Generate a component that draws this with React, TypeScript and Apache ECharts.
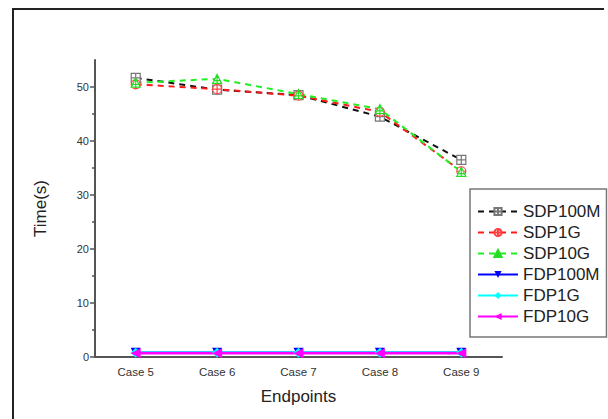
import React, { useEffect, useRef } from "react";
import * as echarts from "echarts";

const categories = ["Case 5", "Case 6", "Case 7", "Case 8", "Case 9"];
const sdp100m = [51.7, 49.5, 48.5, 44.5, 36.5];
const sdp1g = [50.5, 49.6, 48.4, 45.4, 34.4];
const sdp10g = [50.8, 51.5, 48.7, 45.9, 34.3];
const fdp100m = [0.8, 0.8, 0.8, 0.8, 0.8];
const fdp1g = [0.8, 0.8, 0.8, 0.8, 0.8];
const fdp10g = [0.7, 0.7, 0.7, 0.7, 0.7];
const yMajor = [0, 10, 20, 30, 40, 50];
const yMinor = [5, 15, 25, 35, 45];

const SQ_PLUS = "path://M0,0H10V10H0Z M5,0V10 M0,5H10";
const CI_PLUS = "path://M10,5A5,5,0,1,1,0,5A5,5,0,1,1,10,5Z M5,0V10 M0,5H10";
const TR_PLUS = "path://M5,0L10,10H0Z M5,0V10 M1,7H9";

const FONT = "Liberation Sans, Arial, sans-serif";

export default function App() {
  const ref = useRef<HTMLDivElement>(null);
  useEffect(() => {
    if (!ref.current) return;
    const chart = echarts.init(ref.current, undefined, { renderer: "svg" });
    const grid = { left: 95, right: 106, top: 60, bottom: 62 };
    const dashedSeries = (name: string, data: number[], color: string, symbol: string, markerColor: string) => ({
      name,
      type: "line",
      data,
      symbol,
      symbolSize: 9,
      xAxisIndex: 0,
      yAxisIndex: 0,
      lineStyle: { color, width: 2, type: [6, 5] },
      itemStyle: { color: "#ffffff", borderColor: markerColor, borderWidth: 1.2 },
    });
    const solidSeries = (name: string, data: number[], color: string, symbol: string, rotate: number) => ({
      name,
      type: "line",
      data,
      symbol,
      symbolSize: 10,
      symbolRotate: rotate,
      xAxisIndex: 0,
      yAxisIndex: 0,
      lineStyle: { color, width: 2.5, type: "solid" },
      itemStyle: { color },
    });
    chart.setOption({
      animation: false,
      backgroundColor: "#ffffff",
      textStyle: { fontFamily: FONT },
      grid: [grid, grid],
      xAxis: [
        {
          type: "category",
          data: categories,
          gridIndex: 0,
          boundaryGap: true,
          name: "Endpoints",
          nameLocation: "middle",
          nameGap: 31,
          nameTextStyle: { fontSize: 17, color: "#222", fontFamily: FONT },
          axisLine: { lineStyle: { color: "#555", width: 2 } },
          axisTick: { alignWithLabel: true, length: 5, lineStyle: { color: "#555", width: 1.5 } },
          axisLabel: { fontSize: 11.5, color: "#333", margin: 9, fontFamily: FONT },
          splitLine: { show: false },
        },
        {
          type: "category",
          data: categories,
          gridIndex: 1,
          boundaryGap: true,
          axisLine: { show: false },
          axisTick: { alignWithLabel: false, length: 3, lineStyle: { color: "#555", width: 1.5 } },
          axisLabel: { show: false },
          splitLine: { show: false },
        },
      ],
      yAxis: [
        {
          type: "value",
          gridIndex: 0,
          min: 0,
          max: 55,
          interval: 10,
          name: "Time(s)",
          nameLocation: "middle",
          nameGap: 46,
          nameRotate: 90,
          nameTextStyle: { fontSize: 17, color: "#222", fontFamily: FONT },
          axisLine: { show: true, lineStyle: { color: "#555", width: 2 } },
          axisTick: { show: true, length: 5, customValues: yMajor, lineStyle: { color: "#555", width: 1.5 } },
          axisLabel: { fontSize: 11, color: "#333", margin: 6, customValues: yMajor, fontFamily: FONT },
          splitLine: { show: false },
        },
        {
          type: "value",
          gridIndex: 1,
          min: 0,
          max: 55,
          axisLine: { show: false },
          axisTick: { show: true, length: 3, customValues: yMinor, lineStyle: { color: "#555", width: 1.5 } },
          axisLabel: { show: false },
          splitLine: { show: false },
        },
      ],
      legend: {
        orient: "vertical",
        left: 470,
        top: 189,
        itemWidth: 40,
        itemHeight: 9,
        itemGap: 4,
        padding: [14, 6, 12, 7],
        borderColor: "#777",
        borderWidth: 1.5,
        textStyle: { fontSize: 17, color: "#222", fontFamily: FONT },
        data: ["SDP100M", "SDP1G", "SDP10G", "FDP100M", "FDP1G", "FDP10G"],
      },
      graphic: [
        { type: "line", shape: { x1: 12, y1: 9, x2: 604, y2: 9 }, style: { stroke: "#222", lineWidth: 2 } },
        { type: "line", shape: { x1: 13, y1: 9, x2: 13, y2: 419 }, style: { stroke: "#222", lineWidth: 2 } },
      ],
      series: [
        dashedSeries("SDP100M", sdp100m, "#111111", SQ_PLUS, "#777777"),
        dashedSeries("SDP1G", sdp1g, "#ff1a1a", CI_PLUS, "#ff4040"),
        dashedSeries("SDP10G", sdp10g, "#22ee22", TR_PLUS, "#22dd22"),
        solidSeries("FDP100M", fdp100m, "#0000ff", "triangle", 180),
        solidSeries("FDP1G", fdp1g, "#00ffff", "diamond", 0),
        solidSeries("FDP10G", fdp10g, "#ff00ff", "triangle", 90),
      ],
    });
    return () => chart.dispose();
  }, []);
  return (
    <div
      ref={ref}
      style={{ position: "fixed", left: 0, top: 0, width: 608, height: 419, background: "#fff" }}
    />
  );
}
